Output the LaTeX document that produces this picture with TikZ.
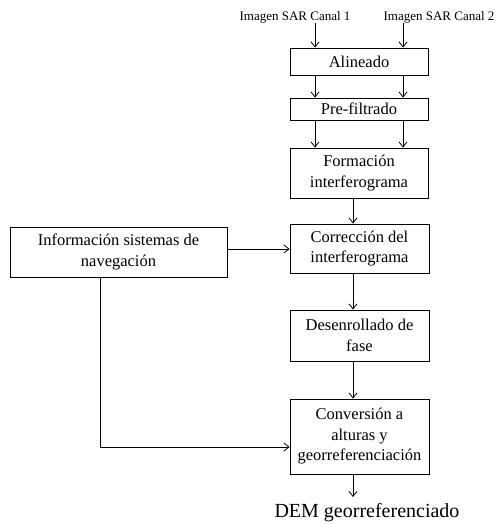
\documentclass[tikz,border=0pt]{standalone}
\usepackage{fontspec}
\setmainfont{Liberation Serif}
\usetikzlibrary{arrows.meta}
\begin{document}
\begin{tikzpicture}[x=1pt,y=-1pt,
  box/.style={draw,line width=0.9pt,inner sep=0pt,align=center,font=\fontsize{16.5}{20.5}\selectfont},
  arr/.style={line width=0.8pt,-{Straight Barb[length=5pt,width=8pt]}},
  ln/.style={line width=0.8pt}]
\useasboundingbox (0,0) rectangle (502,525);
\node[font=\fontsize{13}{15}\selectfont] (in1) at (295,17) {Imagen SAR Canal 1};
\node[font=\fontsize{13}{15}\selectfont] (in2) at (439,17) {Imagen SAR Canal 2};
\node[box,minimum width=138pt,minimum height=27pt] (ali) at (359,61.5) {Alineado};
\node[box,minimum width=138pt,minimum height=22pt] (pre) at (359,109) {Pre-filtrado};
\node[box,minimum width=138pt,minimum height=50pt] (for) at (359,173) {Formación\\interferograma};
\node[box,minimum width=139pt,minimum height=49pt] (cor) at (359.5,248.5) {Corrección del\\interferograma};
\node[box,minimum width=139pt,minimum height=51pt] (des) at (359.5,335.5) {Desenrollado de\\fase};
\node[box,minimum width=139pt,minimum height=75pt] (con) at (359.5,436.5) {Conversión a\\alturas y\\georreferenciación};
\node[box,minimum width=217pt,minimum height=50pt] (inf) at (118.5,252) {Información sistemas de\\navegación};
\node[font=\fontsize{20}{22}\selectfont] (dem) at (367,513) {DEM georreferenciado};
\coordinate (a1) at (315,23);
\coordinate (a2) at (403,23);
\draw[arr] (a1) -- (a1 |- ali.north);
\draw[arr] (a2) -- (a2 |- ali.north);
\draw[arr] (a1 |- ali.south) -- (a1 |- pre.north);
\draw[arr] (a2 |- ali.south) -- (a2 |- pre.north);
\draw[arr] (a1 |- pre.south) -- (a1 |- for.north);
\draw[arr] (a2 |- pre.south) -- (a2 |- for.north);
\coordinate (c) at (353,0);
\draw[arr] (c |- for.south) -- (c |- cor.north);
\draw[arr] (c |- cor.south) -- (c |- des.north);
\draw[arr] (c |- des.south) -- (c |- con.north);
\coordinate (dtop) at (353,497);
\draw[arr] (c |- con.south) -- (dtop);
\coordinate (iy) at (0,249);
\draw[arr] (inf.east |- iy) -- (cor.west |- iy);
\coordinate (bend) at (100,447);
\draw[arr] (inf.south -| bend) -- (bend) -- (con.west |- bend);
\end{tikzpicture}
\end{document}
